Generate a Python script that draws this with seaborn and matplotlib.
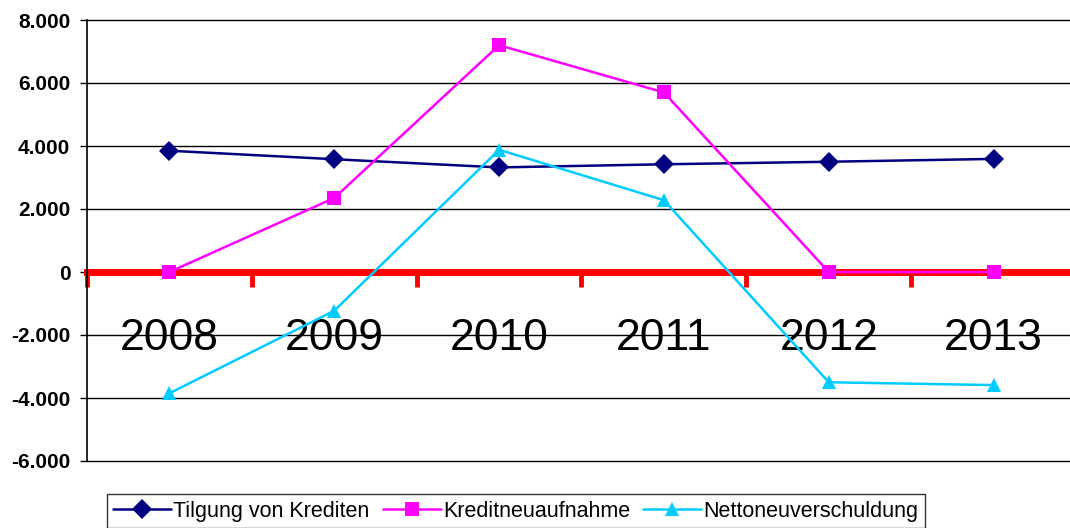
import pandas as pd
import numpy as np
import matplotlib
matplotlib.use("Agg")
import matplotlib.pyplot as plt
import seaborn as sns
from matplotlib.ticker import FuncFormatter, FixedLocator

years = ["2008", "2009", "2010", "2011", "2012", "2013"]
tilgung = [3850, 3580, 3320, 3420, 3500, 3590]
kreditneu = [0, 2350, 7200, 5700, 0, 0]
netto = [-3850, -1230, 3880, 2280, -3500, -3590]
series_names = ["Tilgung von Krediten", "Kreditneuaufnahme", "Nettoneuverschuldung"]

sns.set_style("white")
plt.rcParams["font.family"] = ["Liberation Sans", "DejaVu Sans"]
plt.rcParams["text.color"] = "black"
plt.rcParams["xtick.color"] = "black"
plt.rcParams["ytick.color"] = "black"

df = pd.DataFrame({
    "pos": list(range(len(years))) * 3,
    "wert": tilgung + kreditneu + netto,
    "reihe": [series_names[0]] * 6 + [series_names[1]] * 6 + [series_names[2]] * 6,
})

palette = {series_names[0]: "#000080", series_names[1]: "#FF00FF", series_names[2]: "#00CCFF"}
markers = {series_names[0]: "D", series_names[1]: "s", series_names[2]: "^"}

fig = plt.figure(figsize=(10.7, 5.28), dpi=100)
ax = fig.add_axes([87 / 1070, 67 / 528, 989 / 1070, 441 / 528])

sns.lineplot(data=df, x="pos", y="wert", hue="reihe", style="reihe", palette=palette,
             markers=markers, dashes=False, markersize=10, linewidth=1.8,
             markeredgewidth=0, ax=ax, zorder=3, legend=True)

ax.set_xlim(-0.5, 5.5)
ax.set_ylim(-6000, 8000)
ax.set_yticks(np.arange(-6000, 8001, 2000))
ax.yaxis.set_major_formatter(FuncFormatter(lambda v, p: f"{int(v):,}".replace(",", ".")))
ax.grid(axis="y", color="black", linewidth=1)
ax.grid(axis="x", visible=False)
for gl in ax.get_ygridlines():
    gl.set_clip_on(False)

for s in ["top", "right"]:
    ax.spines[s].set_visible(False)
ax.spines["left"].set_color("black")
ax.spines["left"].set_linewidth(1.2)

# red x axis at zero
ax.spines["bottom"].set_position(("data", 0))
ax.spines["bottom"].set_color("red")
ax.spines["bottom"].set_linewidth(5)
ax.spines["bottom"].set_zorder(2)

ax.set_xticks(range(len(years)))
ax.set_xticklabels(years, fontsize=32)
ax.xaxis.set_minor_locator(FixedLocator(np.arange(-0.5, 5.6, 1)))
ax.tick_params(axis="x", which="major", bottom=True, length=0, pad=33)
ax.tick_params(axis="x", which="minor", bottom=True, length=11, width=3.5, color="red", direction="out")
ax.tick_params(axis="y", left=True, length=5, width=1, color="black", direction="out", pad=7)
for lbl in ax.get_yticklabels():
    lbl.set_fontweight("bold")
    lbl.set_fontsize(15)

ax.set_xlabel("")
ax.set_ylabel("")

handles, labels = ax.get_legend_handles_labels()
ax.legend_.remove()
leg = fig.legend(handles, labels, loc="upper center", bbox_to_anchor=(0.482, 0.064),
                 ncol=3, frameon=True, fancybox=False, edgecolor="black", fontsize=15.5,
                 handlelength=2.7, handletextpad=0.1, columnspacing=0.6,
                 borderpad=0.3, borderaxespad=0)
leg.get_frame().set_linewidth(1)

fig.savefig("out.png", dpi=100)
